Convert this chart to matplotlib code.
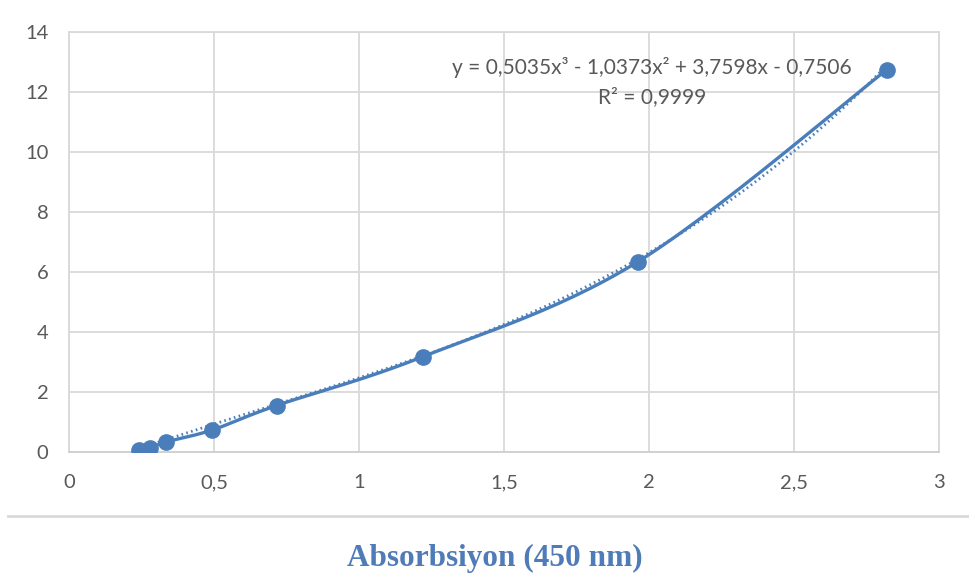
import numpy as np
import matplotlib.pyplot as plt
from matplotlib.lines import Line2D

# Absorbance (450 nm) vs concentration standard curve
absorbance = [0.240, 0.278, 0.332, 0.492, 0.715, 1.220, 1.962, 2.820]
concentration = [0.05, 0.12, 0.33, 0.73, 1.55, 3.18, 6.35, 12.75]

# cubic trendline coefficients (highest power first) and its R²
trend_coefs = [0.5035, -1.0373, 3.7598, -0.7506]
r_squared = 0.9999

x_ticks = [0, 0.5, 1, 1.5, 2, 2.5, 3]
y_ticks = [0, 2, 4, 6, 8, 10, 12, 14]

BLUE = '#4A7EBB'
GRID = '#D9D9D9'
TEXT = '#595959'


def catmull_rom(xs, ys, steps=30):
    # smooth curve through every point, like a spreadsheet "smoothed line"
    px = np.array([xs[0]] + list(xs) + [xs[-1]], dtype=float)
    py = np.array([ys[0]] + list(ys) + [ys[-1]], dtype=float)
    out_x, out_y = [], []
    t = np.linspace(0, 1, steps)
    for i in range(1, len(px) - 2):
        for p, out in ((px, out_x), (py, out_y)):
            p0, p1, p2, p3 = p[i - 1], p[i], p[i + 1], p[i + 2]
            m1 = (p2 - p0) / 2
            m2 = (p3 - p1) / 2
            h00 = 2 * t**3 - 3 * t**2 + 1
            h10 = t**3 - 2 * t**2 + t
            h01 = -2 * t**3 + 3 * t**2
            h11 = t**3 - t**2
            out.extend(h00 * p1 + h10 * m1 + h01 * p2 + h11 * m2)
    return np.array(out_x), np.array(out_y)


def fmt_num(v):
    return f'{v:g}'.replace('.', ',')


fig = plt.figure(figsize=(9.69, 5.76), dpi=100)
ax = fig.add_axes([0.0715, 0.2153, 0.8975, 0.7287])

sx, sy = catmull_rom(absorbance, concentration)
ax.plot(sx, sy, color=BLUE, linewidth=2.4, solid_capstyle='round', zorder=3)

tx = np.linspace(min(absorbance), max(absorbance), 200)
ax.plot(tx, np.polyval(trend_coefs, tx), color=BLUE, linewidth=2.0,
        linestyle=(0, (0.6, 1.2)), zorder=2)

ax.plot(absorbance, concentration, linestyle='none', marker='o',
        markersize=11, color=BLUE, zorder=4)

ax.set_xlim(0, 3)
ax.set_ylim(0, 14)
ax.set_xticks(x_ticks)
ax.set_yticks(y_ticks)
ax.set_xticklabels([fmt_num(v) for v in x_ticks])
ax.set_yticklabels([fmt_num(v) for v in y_ticks])
ax.tick_params(length=0, labelsize=14.5, labelcolor=TEXT)
for lab in ax.get_xticklabels() + ax.get_yticklabels():
    lab.set_family('Lato')
ax.tick_params(axis='x', pad=16)
ax.tick_params(axis='y', pad=15)
ax.grid(True, color=GRID, linewidth=1.3)
ax.set_axisbelow(True)
for side in ax.spines.values():
    side.set_color(GRID)
    side.set_linewidth(1.3)
ax.spines['bottom'].set_color('#CFCFCF')

a, b, c, d = trend_coefs
eq = (f'y = {fmt_num(a)}x³ - {fmt_num(-b)}x² + {fmt_num(c)}x - {fmt_num(-d)}\n'
      f'R² = {fmt_num(r_squared)}')
ax.text(2.01, 12.35, eq, ha='center', va='center', fontsize=15,
        color=TEXT, family='Lato', linespacing=1.55)

# rule under the chart and the axis caption
fig.add_artist(Line2D([8 / 969, 1], [1 - 516 / 576] * 2, color=GRID,
                      linewidth=2, transform=fig.transFigure))
fig.text(495 / 969, 1 - 558 / 576, 'Absorbsiyon (450 nm)', ha='center',
         va='center', fontsize=22.5, fontweight='bold', color='#4F7CB8',
         family='Liberation Serif')

fig.savefig('out.png', dpi=100)
